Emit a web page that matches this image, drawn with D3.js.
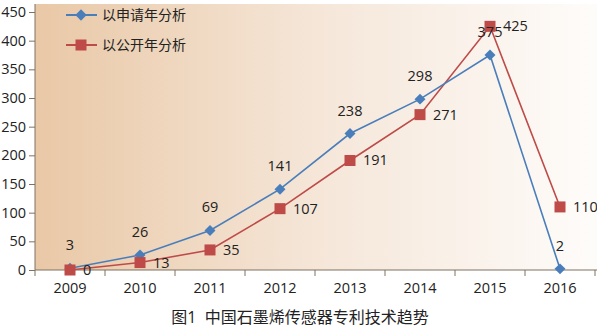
<!DOCTYPE html>
<html><head><meta charset="utf-8">
<script src="https://cdn.jsdelivr.net/npm/d3@7/dist/d3.min.js"></script>
<style>
html,body{margin:0;padding:0;background:#fff;}
text{font-family:"Open Sans","Noto Sans CJK SC",sans-serif;}
</style></head>
<body><svg id="c" width="597" height="328"></svg>
<script>
const years = ["2009","2010","2011","2012","2013","2014","2015","2016"];
const applyYear = [3,26,69,141,238,298,375,2];
const publishYear = [0,13,35,107,191,271,425,110];
const yTicks = [0,50,100,150,200,250,300,350,400,450];
const seriesNames = ["以申请年分析","以公开年分析"];
const title = "图1  中国石墨烯传感器专利技术趋势";

const svg = d3.select("#c");
const L = 35, R = 595, T = 12, B = 270;
const x = d3.scaleBand().domain(years).range([L, R]);
const y = d3.scaleLinear().domain([0,450]).range([B, T]);

const defs = svg.append("defs");
const g = defs.append("linearGradient").attr("id","bg").attr("x1","0").attr("x2","1").attr("y1","0").attr("y2","0");
g.append("stop").attr("offset","0").attr("stop-color","#e9c8a6");
g.append("stop").attr("offset","0.5").attr("stop-color","#f5e6d8");
g.append("stop").attr("offset","1").attr("stop-color","#fefcfa");
svg.append("rect").attr("x",L).attr("y",4).attr("width",597-L).attr("height",B-4).attr("fill","url(#bg)");

const axisColor = "#7f7263";
const yAxis = svg.append("g").attr("transform",`translate(${L},0)`)
  .call(d3.axisLeft(y).tickValues(yTicks).tickSize(6).tickPadding(3));
yAxis.select(".domain").attr("stroke",axisColor).attr("d",`M0,${B}V4`);
yAxis.selectAll(".tick line").attr("stroke",axisColor);
yAxis.selectAll("text").attr("font-size","14.5px").attr("fill","#222");

const xAxis = svg.append("g").attr("transform",`translate(0,${B})`)
  .call(d3.axisBottom(x).tickSize(0).tickPadding(13));
xAxis.select(".domain").attr("stroke",axisColor).attr("d",`M${L},0H597`);
xAxis.selectAll("text").attr("font-size","14.5px").attr("fill","#222");
svg.append("g").selectAll("line").data(years.concat(["end"])).join("line")
  .attr("x1",(d,i)=>L+i*x.step()).attr("x2",(d,i)=>L+i*x.step())
  .attr("y1",B).attr("y2",B+6).attr("stroke",axisColor);

const cx = d => x(d)+x.bandwidth()/2;
const blue = "#4a7ebb", red = "#be4b48";
const line = d3.line().x((d,i)=>cx(years[i])).y(d=>y(d));

svg.append("path").datum(publishYear).attr("d",line).attr("fill","none").attr("stroke",red).attr("stroke-width",1.6);
svg.append("path").datum(applyYear).attr("d",line).attr("fill","none").attr("stroke",blue).attr("stroke-width",1.6);

const sym = d3.symbol();
svg.append("g").selectAll("path").data(applyYear).join("path")
  .attr("d",d3.symbol().type(d3.symbolSquare).size(60))
  .attr("transform",(d,i)=>`translate(${cx(years[i])},${y(d)}) rotate(45)`)
  .attr("fill",blue);
svg.append("g").selectAll("rect").data(publishYear).join("rect")
  .attr("x",(d,i)=>cx(years[i])-5.5).attr("y",d=>y(d)-5.5)
  .attr("width",11).attr("height",11).attr("fill",red);

svg.append("g").selectAll("text").data(applyYear).join("text")
  .attr("x",(d,i)=>cx(years[i])).attr("y",d=>y(d)-18)
  .attr("text-anchor","middle").attr("font-size","14.5px").attr("fill","#222")
  .text(d=>d);
svg.append("g").selectAll("text").data(publishYear).join("text")
  .attr("x",(d,i)=>cx(years[i])+13).attr("y",d=>y(d)+5)
  .attr("font-size","14.5px").attr("fill","#222")
  .text(d=>d);

// legend
const lg = svg.append("g");
[[blue,"d"],[red,"s"]].forEach((c,i)=>{
  const ly = 15 + i*30;
  lg.append("line").attr("x1",66).attr("x2",97).attr("y1",ly).attr("y2",ly).attr("stroke",c[0]).attr("stroke-width",2);
  if(c[1]==="d") lg.append("path").attr("d",d3.symbol().type(d3.symbolSquare).size(64)).attr("transform",`translate(81,${ly}) rotate(45)`).attr("fill",c[0]);
  else lg.append("rect").attr("x",75.5).attr("y",ly-5.5).attr("width",11).attr("height",11).attr("fill",c[0]);
  lg.append("text").attr("x",102).attr("y",ly+5).attr("font-size","14px").attr("fill","#222").text(seriesNames[i]);
});

svg.append("text").attr("x",300).attr("y",323).attr("text-anchor","middle")
  .attr("font-size","16px").attr("fill","#222").attr("xml:space","preserve").style("white-space","pre").text(title);
</script></body></html>
